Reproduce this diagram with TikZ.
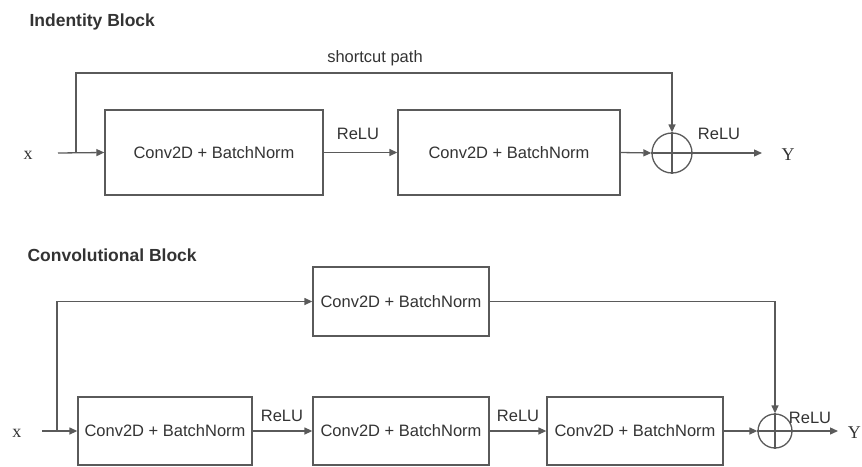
\documentclass[tikz,border=0pt]{standalone}
\usepackage{fontspec}
\setmainfont{Liberation Sans}
\newfontfamily\seriffont{Liberation Serif}
\usetikzlibrary{arrows.meta}
\definecolor{linegray}{HTML}{5A5A5A}
\definecolor{textgray}{HTML}{333333}
\tikzset{
  x=1pt, y=-1pt,
  every node/.style={text=textgray, font=\fontsize{16.5}{18}\selectfont},
  layer/.style={draw=linegray, line width=1.3pt, rectangle, inner sep=0pt},
  sumnode/.style={draw=linegray, line width=1.3pt, circle, inner sep=0pt},
  wire/.style={draw=linegray, line width=1.3pt},
  flow/.style={wire, -{Triangle[length=8pt,width=7pt]}},
  title/.style={font=\fontsize{17.5}{20}\selectfont\bfseries, anchor=west},
  var/.style={font=\fontsize{18}{20}\selectfont\seriffont},
  lbl/.style={inner sep=0pt}
}
\begin{document}
\begin{tikzpicture}
\useasboundingbox (0,0) rectangle (862,466);

% ---------------- identity block ----------------
\node[title] (t1) at (26,22) {Indentity Block};
\node[var] (xa) at (28,155) {x};
\coordinate (xa0) at (58,153);
\coordinate (sa) at (76,153);
\node[layer, minimum width=218pt, minimum height=85pt] (a1) at (214,152.5) {Conv2D + BatchNorm};
\node[layer, minimum width=222pt, minimum height=85pt] (a2) at (509,152.5) {Conv2D + BatchNorm};
\node[sumnode, minimum size=40pt] (sumA) at (672,153) {};
\draw[wire] (sumA.north) -- (sumA.south) (sumA.west) -- (sumA.east);
\coordinate (ya0) at (762,153);
\node[var] (ya) at (788,155) {Y};
\node[lbl] (ra1) at (358,134) {ReLU};
\node[lbl] (ra2) at (719,134) {ReLU};
\node[lbl] (sc) at (375,58) {shortcut path};

\draw[flow] (xa0) -- (a1.west);
\draw[flow] (a1.east) -- (a2.west);
\draw[flow] (a2.east) -- (sumA.west);
\draw[flow] (sumA.east) -- (ya0);
\draw[flow] (sa) |- (672,73) -- (sumA.north);

% ---------------- convolutional block ----------------
\node[title] (t2) at (24,255) {Convolutional Block};
\node[var] (xb) at (17,433) {x};
\coordinate (xb0) at (42,431);
\coordinate (sb) at (57,431);
\node[layer, minimum width=176pt, minimum height=69pt] (b0) at (401,301.5) {Conv2D + BatchNorm};
\node[layer, minimum width=174pt, minimum height=68pt] (b1) at (165,431) {Conv2D + BatchNorm};
\node[layer, minimum width=176pt, minimum height=68pt] (b2) at (401,431) {Conv2D + BatchNorm};
\node[layer, minimum width=176pt, minimum height=68pt] (b3) at (635,431) {Conv2D + BatchNorm};
\node[sumnode, minimum size=34pt] (sumB) at (775,431) {};
\draw[wire] (sumB.north) -- (sumB.south) (sumB.west) -- (sumB.east);
\coordinate (yb0) at (838,431);
\node[var, anchor=east, inner sep=1pt] (yb) at (862,433) {Y};
\node[lbl] (rb1) at (282,416) {ReLU};
\node[lbl] (rb2) at (518,416) {ReLU};
\node[lbl] (rb3) at (810,418) {ReLU};

\draw[flow] (xb0) -- (b1.west);
\draw[flow] (b1.east) -- (b2.west);
\draw[flow] (b2.east) -- (b3.west);
\draw[flow] (b3.east) -- (sumB.west);
\draw[flow] (sumB.east) -- (yb0);
\draw[flow] (sb) |- (b0.west);
\draw[flow] (b0.east) -| (sumB.north);
\end{tikzpicture}
\end{document}
